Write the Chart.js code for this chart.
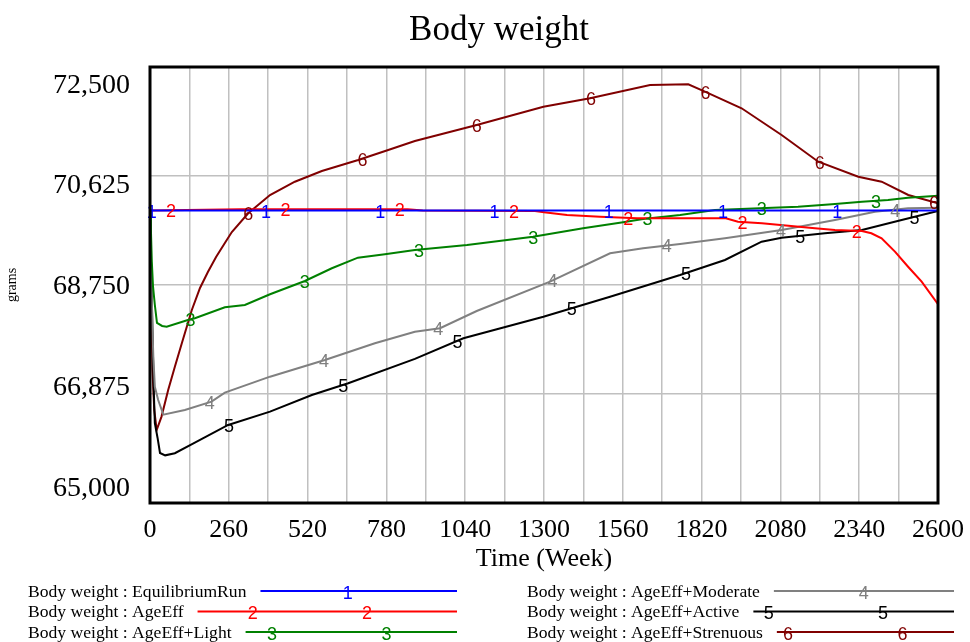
<!DOCTYPE html>
<html>
<head>
<meta charset="utf-8">
<title>Body weight</title>
<script src="https://cdn.jsdelivr.net/npm/chart.js@4.4.1/dist/chart.umd.min.js"></script>
<style>
  html, body { margin: 0; padding: 0; background: #fff; }
  #wrap { width: 970px; height: 642px; }
</style>
</head>
<body>
<div id="wrap"><canvas id="graph" width="970" height="642"></canvas></div>
<script>
// Body weight (grams) against time (weeks), one week/gram pair of arrays per run
const runNames = ['EquilibriumRun', 'AgeEff', 'AgeEff+Light', 'AgeEff+Moderate', 'AgeEff+Active', 'AgeEff+Strenuous'];
const runColors = ['#0000ff', '#ff0000', '#008000', '#808080', '#000000', '#800000'];

const equilibriumWeeks = [0, 650, 1300, 1950, 2600];
const equilibriumGrams = [70030, 70030, 70030, 70030, 70030];

const ageEffWeeks = [0, 300, 850, 900, 1264, 1300, 1376, 1485, 1607, 1900, 1940, 2019, 2194, 2260, 2349, 2380, 2414, 2458, 2502, 2546, 2600];
const ageEffGrams = [70030, 70055, 70055, 70030, 70025, 70001, 69954, 69926, 69897, 69897, 69840, 69812, 69726, 69696, 69680, 69640, 69554, 69324, 69060, 68807, 68420];

const lightWeeks = [0, 3, 6, 10, 16, 23, 40, 55, 125, 148, 247, 313, 396, 511, 600, 686, 775, 874, 1046, 1264, 1429, 1561, 1627, 1749, 1864, 2138, 2250, 2349, 2435, 2501, 2600];
const lightGrams = [70030, 69700, 69151, 68721, 68406, 68097, 68045, 68033, 68148, 68178, 68367, 68406, 68590, 68819, 69038, 69220, 69278, 69352, 69438, 69581, 69726, 69829, 69886, 69954, 70040, 70097, 70138, 70183, 70212, 70252, 70286];

const moderateWeeks = [0, 4, 8, 11, 16, 27, 44, 115, 203, 247, 396, 577, 742, 874, 957, 1078, 1320, 1518, 1627, 1749, 1897, 2084, 2260, 2392, 2501, 2600];
const moderateGrams = [70030, 69000, 68000, 67517, 66998, 66772, 66520, 66600, 66743, 66898, 67173, 67460, 67748, 67947, 68006, 68303, 68807, 69296, 69382, 69456, 69554, 69696, 69868, 70011, 70070, 70080];

const activeWeeks = [0, 4, 8, 12, 16, 25, 33, 50, 82, 148, 258, 396, 534, 654, 874, 1034, 1298, 1518, 1749, 1897, 2018, 2084, 2227, 2349, 2480, 2600];
const activeGrams = [70030, 69000, 68000, 67000, 66372, 66119, 65861, 65820, 65856, 66040, 66342, 66571, 66858, 67060, 67480, 67834, 68205, 68549, 68922, 69180, 69495, 69564, 69640, 69696, 69868, 70025];

const strenuousWeeks = [0, 4, 8, 14, 22, 38, 60, 82, 105, 138, 165, 191, 218, 247, 270, 324, 396, 478, 567, 687, 786, 874, 1078, 1298, 1452, 1650, 1776, 1831, 1952, 2084, 2205, 2337, 2414, 2502, 2600];
const strenuousGrams = [70030, 68500, 67300, 66600, 66256, 66486, 66944, 67345, 67748, 68320, 68699, 68974, 69232, 69473, 69662, 69984, 70298, 70527, 70711, 70900, 71072, 71227, 71502, 71817, 71962, 72190, 72202, 72075, 71790, 71330, 70871, 70613, 70527, 70298, 70156];

const weekTicks = [0, 260, 520, 780, 1040, 1300, 1560, 1820, 2080, 2340, 2600];
const gramTicks = [65000, 66875, 68750, 70625, 72500];

const runs = [
    { weeks: equilibriumWeeks, grams: equilibriumGrams },
    { weeks: ageEffWeeks, grams: ageEffGrams },
    { weeks: lightWeeks, grams: lightGrams },
    { weeks: moderateWeeks, grams: moderateGrams },
    { weeks: activeWeeks, grams: activeGrams },
    { weeks: strenuousWeeks, grams: strenuousGrams },
];

// vertical grid every half label step
let gridWeeks = [];
weekTicks.forEach((w, i) => {
    gridWeeks.push(w);
    if (i < weekTicks.length - 1) gridWeeks.push((w + weekTicks[i + 1]) / 2);
});

function valueAt(run, week) {
    const w = run.weeks, g = run.grams;
    if (week <= w[0]) return g[0];
    for (let k = 1; k < w.length; k++) {
        if (week <= w[k]) {
            const f = (week - w[k - 1]) / (w[k] - w[k - 1]);
            return g[k - 1] + f * (g[k] - g[k - 1]);
        }
    }
    return g[g.length - 1];
}

const SERIF = '"Liberation Serif", "Times New Roman", serif';
const SANS = '"Liberation Sans", Arial, sans-serif';

// number tags along the lines, frame, and all the text around the plot
const vensimLook = {
    id: 'vensimLook',
    afterDatasetsDraw(chart) {
        const { ctx, chartArea: a, scales: { x, y } } = chart;
        ctx.save();
        ctx.font = '18px ' + SANS;
        ctx.textAlign = 'center';
        ctx.textBaseline = 'middle';
        runs.forEach((run, i) => {
            ctx.fillStyle = runColors[i];
            for (let w = 6 + i * 63.7; w <= 2600; w += 377) {
                ctx.fillText(String(i + 1), x.getPixelForValue(w), y.getPixelForValue(valueAt(run, w)) + 2);
            }
        });
        ctx.strokeStyle = '#000';
        ctx.lineWidth = 3;
        ctx.strokeRect(a.left, a.top, a.right - a.left, a.bottom - a.top);
        ctx.restore();
    },
    afterDraw(chart) {
        const { ctx, chartArea: a, scales: { x, y } } = chart;
        ctx.save();
        ctx.fillStyle = '#000';

        ctx.font = '35px ' + SERIF;
        ctx.textAlign = 'center';
        ctx.textBaseline = 'alphabetic';
        ctx.fillText('Body weight', 499, 40);

        // y labels sit a little inside the outer grid lines
        const mid = (a.top + a.bottom) / 2;
        ctx.font = '28px ' + SERIF;
        ctx.textAlign = 'right';
        gramTicks.forEach(v => {
            const ly = mid + (y.getPixelForValue(v) - mid) * 0.925;
            ctx.fillText(v.toLocaleString('en-US'), 130, ly + 9.3);
        });

        ctx.font = '26px ' + SERIF;
        ctx.textAlign = 'center';
        weekTicks.forEach(v => {
            ctx.fillText(String(v), x.getPixelForValue(v), 537);
        });

        ctx.fillText('Time (Week)', (a.left + a.right) / 2, 566);

        ctx.save();
        ctx.translate(12, mid);
        ctx.rotate(-Math.PI / 2);
        ctx.font = '14px ' + SERIF;
        ctx.textBaseline = 'middle';
        ctx.fillText('grams', 0, 0);
        ctx.restore();

        // legend: two columns of three
        const rowY = [591, 611.5, 632];
        const cols = [{ textX: 28, lineEnd: 457, tagX0: 233.5 }, { textX: 527, lineEnd: 954, tagX0: 691.6 }];
        runNames.forEach((name, i) => {
            const col = cols[Math.floor(i / 3)];
            const ly = rowY[i % 3];
            const label = 'Body weight : ' + name;
            ctx.font = '17.6px ' + SERIF;
            ctx.textAlign = 'left';
            ctx.textBaseline = 'alphabetic';
            ctx.fillStyle = '#000';
            ctx.fillText(label, col.textX, ly + 5.5);
            const lineStart = col.textX + ctx.measureText(label).width + 14;
            ctx.strokeStyle = runColors[i];
            ctx.lineWidth = 2;
            ctx.beginPath();
            ctx.moveTo(lineStart, ly);
            ctx.lineTo(col.lineEnd, ly);
            ctx.stroke();
            ctx.font = '18px ' + SANS;
            ctx.textAlign = 'center';
            ctx.textBaseline = 'middle';
            ctx.fillStyle = runColors[i];
            for (let tx = col.tagX0 + i * 19.3; tx <= col.lineEnd; tx += 114.3) {
                if (tx >= lineStart) ctx.fillText(String(i + 1), tx, ly + 3);
            }
        });
        ctx.restore();
    }
};

const gridStyle = { color: '#c0c0c0', lineWidth: 1.5, drawTicks: false };

new Chart('graph', {
    type: 'scatter',
    data: {
        datasets: runs.map((run, i) => ({
            label: runNames[i],
            data: run.weeks.map((w, k) => ({ x: w, y: run.grams[k] })),
            showLine: true,
            borderColor: runColors[i],
            backgroundColor: runColors[i],
            borderWidth: 2,
            pointRadius: 0,
            tension: 0,
        }))
    },
    options: {
        responsive: false,
        animation: false,
        devicePixelRatio: 1,
        layout: { padding: { top: 67, right: 32, left: 0, bottom: 0 } },
        plugins: {
            legend: { display: false },
            tooltip: { enabled: false },
            title: { display: false },
        },
        scales: {
            x: {
                type: 'linear',
                min: 0,
                max: 2600,
                afterBuildTicks: s => { s.ticks = gridWeeks.map(v => ({ value: v })); },
                afterFit: s => { s.height = 139; },
                ticks: { display: false },
                grid: gridStyle,
                border: { display: false },
            },
            y: {
                type: 'linear',
                min: 65000,
                max: 72500,
                afterBuildTicks: s => { s.ticks = gramTicks.map(v => ({ value: v })); },
                afterFit: s => { s.width = 150; },
                ticks: { display: false },
                grid: gridStyle,
                border: { display: false },
            }
        }
    },
    plugins: [vensimLook]
});
</script>
</body>
</html>
